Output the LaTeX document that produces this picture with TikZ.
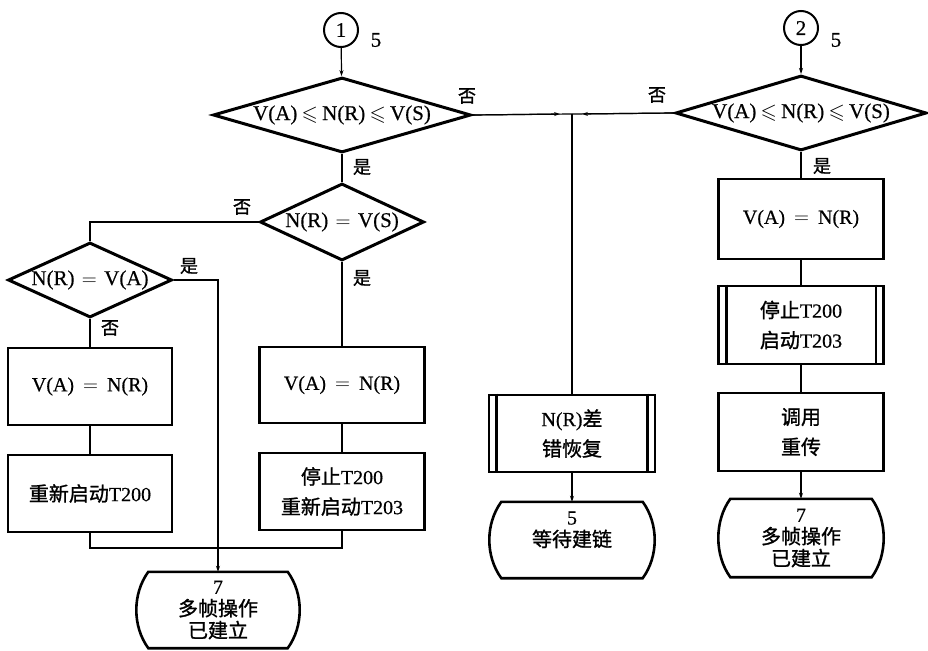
\documentclass[tikz,border=0pt]{standalone}
\usepackage{amssymb}
\usepackage{fontspec}
\setmainfont{Liberation Serif}[FakeBold=0.5]
\newfontfamily\cjk{Noto Sans CJK SC}[FakeBold=1.2]
\usetikzlibrary{shapes.geometric,calc,arrows.meta}
\newcommand\wrel[2]{\hspace{#2}$#1$\hspace{#2}}
\newcommand\termline[1]{\draw[line width=2.6pt] ($(#1.north west)+(11,0)$) -- ($(#1.north east)+(-11,0)$) .. controls ($(#1.north east)+(5,22)$) and ($(#1.south east)+(5,-22)$) .. ($(#1.south east)+(-11,0)$) -- ($(#1.south west)+(11,0)$) .. controls ($(#1.south west)+(-5,-22)$) and ($(#1.north west)+(-5,22)$) .. cycle;}
\begin{document}
\begin{tikzpicture}[x=1pt,y=-1pt,
  font=\fontsize{21}{23}\selectfont,
  conn/.style={line width=1.2pt},
  arr/.style={conn,-{Stealth[length=6pt,width=4pt]}},
  box/.style={draw, line width=2.6pt, minimum width=164pt, minimum height=77pt, align=center, inner sep=0pt, font=\fontsize{20}{30}\selectfont},
  dia/.style={draw, diamond, line width=3pt, inner sep=0pt},
  circ/.style={draw, circle, line width=2pt, minimum size=34pt, inner sep=0pt},
  term/.style={minimum width=161pt, minimum height=76pt, inner sep=0pt, align=center, font=\fontsize{20}{22}\selectfont},
  lbl/.style={font=\cjk\fontsize{18}{20}\selectfont, inner sep=0pt}]
\useasboundingbox (0,0) rectangle (928,650);

% top left connector and decision
\node[circ] (c1) at (341,30) {1};
\node (n5a) at (376,40) {5};
\node[dia, minimum width=258pt, minimum height=75pt,
  label=center:{V(A)\wrel{\leqslant}{0.2em}N(R)\wrel{\leqslant}{0.2em}V(S)}] (d1) at (342,115) {};
\coordinate (j) at (572,114);

% top right connector and decision
\node[circ] (c2) at (801,28) {2};
\node (n5b) at (836,40) {5};
\node[dia, minimum width=251pt, minimum height=75pt,
  label=center:{V(A)\wrel{\leqslant}{0.2em}N(R)\wrel{\leqslant}{0.2em}V(S)}] (d4) at (801,113) {};

% left branch
\node[dia, minimum width=164pt, minimum height=77pt,
  label=center:{N(R)\wrel{=}{0.35em}V(S)}] (d2) at (342,222) {};
\node[dia, minimum width=164pt, minimum height=75pt,
  label=center:{N(R)\wrel{=}{0.35em}V(A)}] (d3) at (90,280) {};
\node[box] (b1) at (90,386.5) {V(A)\wrel{=}{0.45em}N(R)};
\node[box] (b2) at (90,493.5) {{\cjk 重新启动}T200};
\node[box, minimum width=165pt, minimum height=76pt] (b3) at (342,385) {V(A)\wrel{=}{0.45em}N(R)};
\node[box, minimum width=165pt] (b4) at (342,491.5) {{\cjk 停止}T200\\{\cjk 重新启动}T203};
\coordinate (mg) at (218,548);
\node[term] (t1) at (218,610) {7\\{\cjk 多帧操作}\\{\cjk 已建立}};
\termline{t1}

% middle
\node[box, minimum width=166pt] (m1) at (572,433.5) {N(R){\cjk 差}\\{\cjk 错恢复}};
\draw[line width=2.6pt] ($(m1.north west)+(9,0)$) -- ($(m1.south west)+(9,0)$);
\draw[line width=2.6pt] ($(m1.north east)+(-9,0)$) -- ($(m1.south east)+(-9,0)$);
\node[term, minimum width=163pt] (t2) at (572,540) {5\\{\cjk 等待建链}\\\mbox{}};
\termline{t2}

% right branch
\node[box, minimum width=165pt, minimum height=80pt] (r1) at (801,219) {V(A)\wrel{=}{0.45em}N(R)};
\node[box, minimum width=165pt, minimum height=78pt] (r2) at (801,325) {{\cjk 停止}T200\\{\cjk 启动}T203};
\draw[line width=2.6pt] ($(r2.north west)+(9,0)$) -- ($(r2.south west)+(9,0)$);
\draw[line width=2.6pt] ($(r2.north east)+(-9,0)$) -- ($(r2.south east)+(-9,0)$);
\node[box, minimum width=165pt, minimum height=78pt] (r3) at (801,432) {{\cjk 调用}\\{\cjk 重传}};
\node[term, minimum width=163pt, minimum height=78pt] (t3) at (801,538) {7\\{\cjk 多帧操作}\\{\cjk 已建立}};
\termline{t3}

% yes/no labels
\node[lbl] (l1) at (467,96) {否};
\node[lbl] (l2) at (362,167) {是};
\node[lbl] (l3) at (242,207) {否};
\node[lbl] (l4) at (189,266) {是};
\node[lbl] (l5) at (362,278) {是};
\node[lbl] (l6) at (110,328) {否};
\node[lbl] (l7) at (657,95) {否};
\node[lbl] (l8) at (822,166) {是};

% connectors
\draw[arr] (c1) -- (d1);
\draw[conn] (d1.east) -- (j);
\draw[arr] (d1.east) -- ($(j)+(-12,0)$);
\draw[conn] (d4.west) -- (j);
\draw[arr] (d4.west) -- ($(j)+(10,0)$);
\draw[conn] (j) -- (m1.north);
\draw[arr] (m1) -- (t2);
\draw[conn] (d1.south) -- (d2.north);
\draw[conn] (d2.west) -| (d3.north);
\draw[conn] (d3.south) -- (b1.north);
\draw[conn] (b1) -- (b2);
\draw[conn] (d2.south) -- (b3.north);
\draw[conn] (b3) -- (b4);
\draw[arr] (d3.east) -| (t1.north);
\draw[conn] (b2.south) |- (mg) -| (b4.south);
\draw[arr] (c2) -- (d4);
\draw[conn] (d4.south) -- (r1.north);
\draw[conn] (r1) -- (r2);
\draw[conn] (r2) -- (r3);
\draw[arr] (r3) -- (t3);
\end{tikzpicture}
\end{document}
